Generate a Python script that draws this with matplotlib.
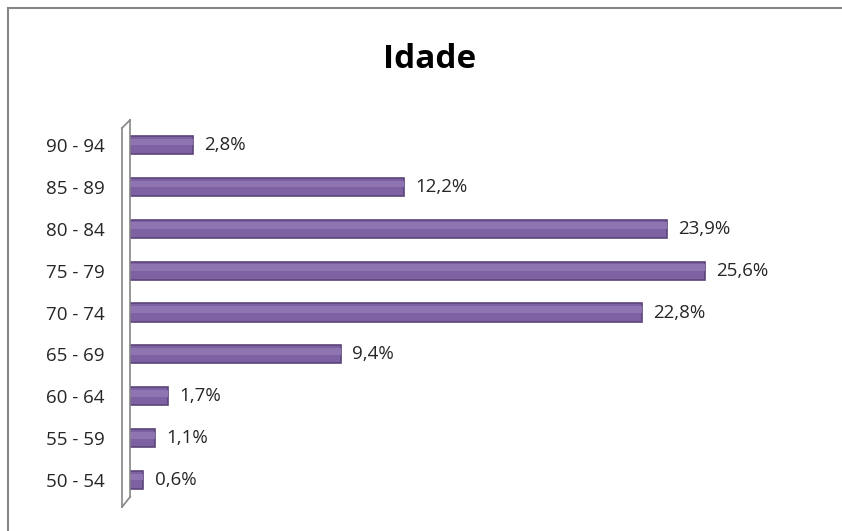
import matplotlib.pyplot as plt
from matplotlib.patches import Rectangle

# age groups, bottom to top
faixas = ["50 - 54", "55 - 59", "60 - 64", "65 - 69", "70 - 74",
          "75 - 79", "80 - 84", "85 - 89", "90 - 94"]
percent = [0.6, 1.1, 1.7, 9.4, 22.8, 25.6, 23.9, 12.2, 2.8]

plt.rcParams['font.family'] = ['Open Sans', 'DejaVu Sans']

fig = plt.figure(figsize=(8.42, 5.31), dpi=100)

# outer chart border (cropped at right and bottom)
fig.patches.append(Rectangle((8 / 842, -0.1), 1.2, (531 - 8) / 531 + 0.1,
                             transform=fig.transFigure, fill=False,
                             edgecolor='#868686', linewidth=1.5))

ax = fig.add_axes([130 / 842, 30 / 531, 650 / 842, 377 / 531])
y = range(len(faixas))

ax.barh(y, percent, height=0.43, color='#7D61A3', edgecolor='#5B4579',
        linewidth=1.2)
# lighter upper half to fake the cylinder shading
ax.barh([i + 0.07 for i in y], percent, height=0.16, color='#8E75B2',
        linewidth=0)

for i, v in enumerate(percent):
    ax.text(v + 0.5, i, ("%.1f" % v).replace('.', ',') + "%",
            va='center', ha='left', fontsize=13.5, color='#262626')

ax.set_xlim(0, 650 / 22.46)
ax.set_ylim(-0.5, 8.5)
ax.set_yticks(list(y))
ax.set_yticklabels(faixas, fontsize=13.5, color='#262626')
ax.tick_params(axis='y', length=0, pad=18)
ax.set_xticks([])
for s in ax.spines.values():
    s.set_visible(False)

# 3D side wall of the category axis
wall = dict(color='#868686', linewidth=1.2, transform=fig.transFigure,
            clip_on=False)
fig.add_artist(plt.Line2D([122 / 842, 122 / 842],
                          [1 - 128 / 531, 1 - 507 / 531], **wall))
fig.add_artist(plt.Line2D([130 / 842, 130 / 842],
                          [1 - 120 / 531, 1 - 497 / 531], **wall))
fig.add_artist(plt.Line2D([122 / 842, 130 / 842],
                          [1 - 128 / 531, 1 - 120 / 531], **wall))
fig.add_artist(plt.Line2D([122 / 842, 130 / 842],
                          [1 - 507 / 531, 1 - 497 / 531], **wall))

fig.text(430 / 842, 1 - 59 / 531, "Idade", ha='center', va='center',
         fontsize=24, fontweight='bold', color='black')

fig.savefig("out.png", dpi=100)
